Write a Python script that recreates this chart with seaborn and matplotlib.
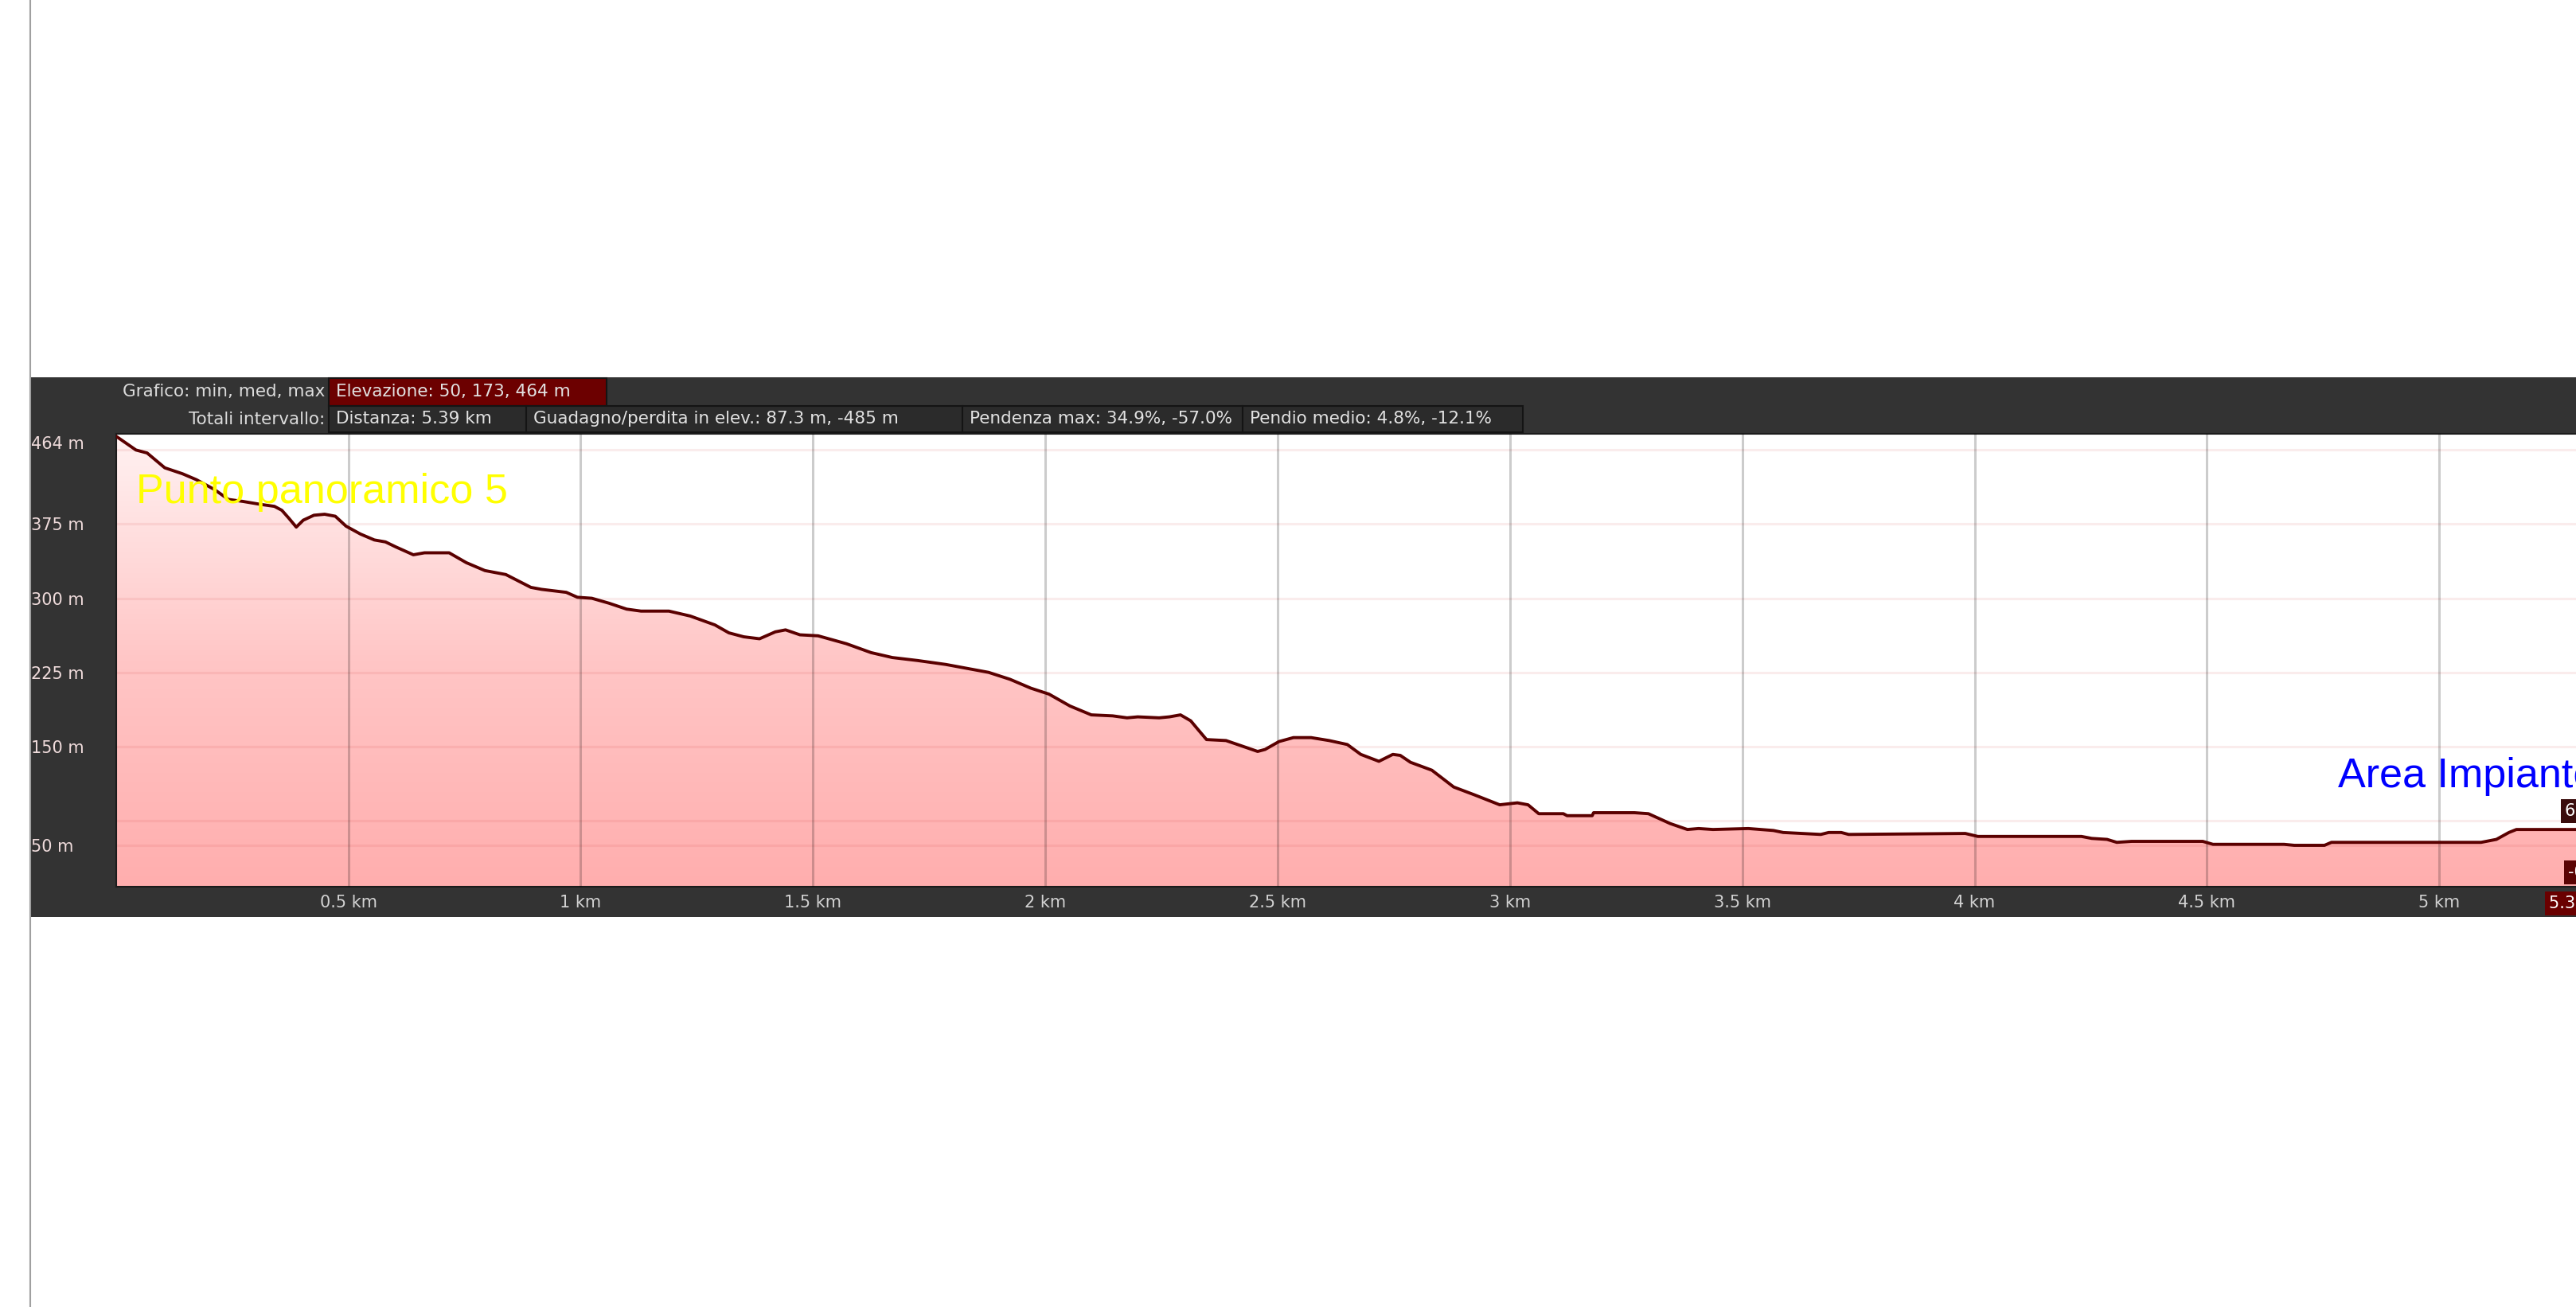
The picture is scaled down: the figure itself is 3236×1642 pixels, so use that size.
import numpy as np
import matplotlib
matplotlib.use('Agg')
import matplotlib.pyplot as plt
import seaborn as sns
from matplotlib.patches import Rectangle
from matplotlib.lines import Line2D
from matplotlib.colors import LinearSegmentedColormap

sns.set_style('white')
plt.rcParams['font.family'] = ['DejaVu Sans']

# elevation profile (distance in km, elevation in m)
dist_km = [0.000, 0.043, 0.067, 0.105, 0.143, 0.173, 0.212, 0.242, 0.273, 0.311,
           0.341, 0.357, 0.372, 0.388, 0.403, 0.426, 0.449, 0.472, 0.495, 0.526,
           0.556, 0.580, 0.602, 0.640, 0.664, 0.717, 0.754, 0.794, 0.839, 0.893,
           0.916, 0.969, 0.993, 1.024, 1.061, 1.099, 1.130, 1.190, 1.236, 1.289,
           1.319, 1.351, 1.385, 1.419, 1.441, 1.472, 1.511, 1.572, 1.625, 1.671,
           1.725, 1.786, 1.832, 1.878, 1.924, 1.969, 2.008, 2.053, 2.099, 2.145,
           2.176, 2.199, 2.245, 2.267, 2.291, 2.313, 2.329, 2.347, 2.389, 2.420,
           2.457, 2.473, 2.503, 2.534, 2.572, 2.611, 2.650, 2.679, 2.718, 2.748,
           2.764, 2.786, 2.832, 2.879, 2.924, 2.978, 3.016, 3.039, 3.062, 3.115,
           3.123, 3.177, 3.180, 3.268, 3.298, 3.345, 3.382, 3.406, 3.437, 3.513,
           3.567, 3.588, 3.669, 3.686, 3.713, 3.729, 3.980, 4.007, 4.230, 4.252,
           4.285, 4.306, 4.338, 4.491, 4.513, 4.666, 4.688, 4.753, 4.768, 5.090,
           5.123, 5.150, 5.166, 5.390]
elev_m = [464, 450, 447, 432, 426, 420, 410, 400, 398, 395,
          393, 389, 381, 372, 379, 384, 385, 383, 373, 365,
          359, 357, 352, 344, 346, 346, 336, 328, 324, 311,
          309, 306, 301, 300, 295, 289, 287, 287, 282, 273,
          265, 261, 259, 266, 268, 263, 262, 254, 245, 240,
          237, 233, 229, 225, 218, 209, 203, 191, 182, 181,
          179, 180, 179, 180, 182, 176, 167, 157, 156, 151,
          145, 147, 155, 159, 159, 156, 152, 142, 135, 142,
          141, 134, 126, 109, 101, 91, 93, 91, 82, 82,
          80, 80, 83, 83, 82, 72, 66, 67, 66, 67,
          65, 63, 61, 63, 63, 61, 62, 59, 59, 57,
          56, 53, 54, 54, 51, 51, 50, 50, 53, 53,
          56, 63, 66, 66]

x_ticks = [0.5, 1, 1.5, 2, 2.5, 3, 3.5, 4, 4.5, 5]
x_labels = ['0.5 km', '1 km', '1.5 km', '2 km', '2.5 km', '3 km', '3.5 km', '4 km', '4.5 km', '5 km']
y_ticks = [50, 150, 225, 300, 375, 464]
y_labels = ['50 m', '150 m', '225 m', '300 m', '375 m', '464 m']
y_grid = [50, 75, 150, 225, 300, 375, 450]

header_row1 = ['Elevazione: 50, 173, 464 m']
header_row2 = ['Distanza: 5.39 km', 'Guadagno/perdita in elev.: 87.3 m, -485 m',
               'Pendenza max: 34.9%, -57.0%', 'Pendio medio: 4.8%, -12.1%']

W, H = 3236, 1642


def fx(px):
    return px / W


def fy(py):
    return 1 - py / H


fig = plt.figure(figsize=(W / 100, H / 100), dpi=100)
fig.patch.set_facecolor('white')

# dark panel behind the chart
fig.add_artist(Rectangle((fx(38), fy(1152)), fx(3400) - fx(38), (1152 - 474) / H,
                         transform=fig.transFigure, facecolor='#333333', edgecolor='none', zorder=-1))
fig.add_artist(Line2D([fx(38), fx(38)], [0, 1], transform=fig.transFigure, color='#a0a0a0', lw=1.5))


def header_box(x0, x1, y0, y1, text, face):
    fig.add_artist(Rectangle((fx(x0), fy(y1)), fx(x1) - fx(x0), (y1 - y0) / H,
                             transform=fig.transFigure, facecolor=face, edgecolor='#141414', lw=1.5))
    fig.text(fx(x0 + 9), fy((y0 + y1) / 2), text, ha='left', va='center',
             fontsize=15.5, color='#e2e2e2')


fig.text(fx(408), fy(492), 'Grafico: min, med, max', ha='right', va='center', fontsize=15.5, color='#dcdcdc')
fig.text(fx(408), fy(527), 'Totali intervallo:', ha='right', va='center', fontsize=15.5, color='#dcdcdc')
header_box(413, 762, 475, 510, header_row1[0], '#6c0000')
row2_edges = [413, 661, 1209, 1561, 1913]
for i, txt in enumerate(header_row2):
    header_box(row2_edges[i], row2_edges[i + 1], 510, 543, txt, '#2b2b2b')

# chart axes (runs past the right edge of the picture, like the screenshot)
x_max = 5.39
ax = fig.add_axes([fx(145.7), fy(1114), x_max * 583.7 / W, (1114 - 545) / H])
y_lo, y_hi = 8.1, 466.4
ax.set_xlim(0, x_max)
ax.set_ylim(y_lo, y_hi)
ax.set_facecolor('white')

# gradient fill under the profile
grad = np.linspace(0, 1, 256).reshape(-1, 1)
cmap = LinearSegmentedColormap.from_list('pink', ['#ffaeae', '#ffc6c6', '#fff2f2'])
im = ax.imshow(grad, extent=[0, x_max, y_lo, y_hi], origin='lower', aspect='auto',
               cmap=cmap, zorder=1, interpolation='bilinear')
area = ax.fill_between(dist_km, elev_m, y_lo, facecolor='none', edgecolor='none')
im.set_clip_path(area.get_paths()[0], transform=ax.transData)

sns.lineplot(x=dist_km, y=elev_m, ax=ax, color='#5a0000', linewidth=2.8, zorder=4)

# grid
ax.set_axisbelow(False)
ax.set_xticks(x_ticks, x_labels)
ax.set_yticks(y_ticks, y_labels)
ax.grid(which='major', axis='x', color='black', alpha=0.2, lw=2.2)
ax.grid(which='major', axis='y', visible=False)
for g in y_grid:
    ax.axhline(g, color='#c83030', alpha=0.09, lw=2.2, zorder=2.5)

ax.tick_params(axis='both', which='both', length=0)
ax.tick_params(axis='x', pad=7, labelsize=15, labelcolor='#d2d2d2')
ax.tick_params(axis='y', pad=76.8, labelsize=15, labelcolor='#f0dcdc')
for lab in ax.get_yticklabels():
    lab.set_horizontalalignment('left')
ax.get_yticklabels()[-1].set_verticalalignment('top')
ax.set_xlabel(None)
ax.set_ylabel(None)
for sp in ax.spines.values():
    sp.set_color('#1c1c1c')
    sp.set_linewidth(1.5)

# waypoint names
ax.text(0.0433, 396.3, 'Punto panoramico 5', ha='left', va='baseline', fontsize=37.5,
        color='#ffff00', family='Liberation Sans', zorder=6)
ax.text(4.782, 108.8, 'Area Impianto', ha='left', va='baseline', fontsize=37.5,
        color='#0000ff', family='Liberation Sans', zorder=6)

# cursor readouts cut off at the right edge
fig.text(fx(3222), fy(1019), '66 m', ha='left', va='center', fontsize=15, color='white',
         bbox=dict(boxstyle='square,pad=0.25', facecolor='#3a0c0c', edgecolor='none'))
fig.text(fx(3226), fy(1096), '-0.3%', ha='left', va='center', fontsize=15, color='white',
         bbox=dict(boxstyle='square,pad=0.25', facecolor='#5a0404', edgecolor='none'))
fig.text(fx(3202), fy(1135), '5.39 km', ha='left', va='center', fontsize=15, color='white',
         bbox=dict(boxstyle='square,pad=0.25', facecolor='#6a0000', edgecolor='none'))

fig.savefig('out.png', dpi=100)
